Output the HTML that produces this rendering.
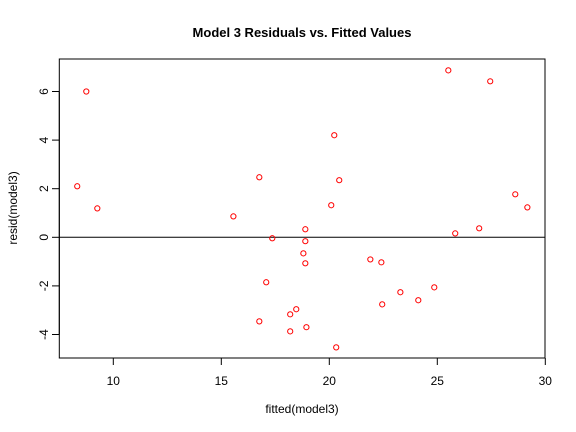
<!DOCTYPE html>
<html><head><meta charset="utf-8"><style>
body{margin:0;background:#fff;}
svg{display:block;font-family:"Liberation Sans",Arial,sans-serif;}
</style></head><body>
<svg id="chart" width="576" height="432">
<text x="302" y="37" text-anchor="middle" font-size="13" font-weight="bold">Model 3 Residuals vs. Fitted Values</text>
<text x="302" y="413" text-anchor="middle" font-size="12">fitted(model3)</text>
<text transform="translate(17,208) rotate(-90)" text-anchor="middle" font-size="12">resid(model3)</text>
<rect x="59.3" y="59" width="485.7" height="299" fill="none" stroke="#000" stroke-width="1"/>
<g id="xt"></g><g id="yt"></g><g id="pts"></g>
</svg>
<script>
const fitted=[8.75,8.33,9.26,15.56,16.76,17.36,17.08,16.76,18.19,18.47,18.19,18.89,18.89,18.80,18.89,18.94,20.09,20.23,20.46,20.32,21.90,22.41,22.45,23.29,24.12,24.86,25.51,25.83,26.94,27.45,28.61,29.17];
const resid=[6.0,2.10,1.19,0.86,2.47,-0.04,-1.85,-3.46,-3.17,-2.96,-3.87,0.33,-0.16,-0.66,-1.07,-3.70,1.32,4.20,2.35,-4.53,-0.91,-1.03,-2.76,-2.26,-2.59,-2.06,6.87,0.16,0.37,6.42,1.77,1.23];
const xTicks=[10,15,20,25,30];
const yTicks=[-4,-2,0,2,4,6];
const X=v=>113.3+(v-10)*21.6;
const Y=v=>237.3-v*24.3;
const NS="http://www.w3.org/2000/svg";
function mk(t,a,p){const e=document.createElementNS(NS,t);for(const k in a)e.setAttribute(k,a[k]);p.appendChild(e);return e;}
const xt=document.getElementById('xt'),yt=document.getElementById('yt'),pts=document.getElementById('pts');
mk('line',{x1:X(10),x2:X(30),y1:358,y2:358,stroke:'#000'},xt);
xTicks.forEach(v=>{
 const l=mk('line',{x1:X(v),x2:X(v),y1:358,y2:365,stroke:'#000'},xt);
 
 
 const t=mk('text',{x:X(v),y:385,'text-anchor':'middle','font-size':12},xt);t.textContent=v;
 
 
});
mk('line',{x1:59.3,x2:59.3,y1:Y(-4),y2:Y(6),stroke:'#000'},yt);
yTicks.forEach(v=>{
 const l=mk('line',{x1:52,x2:59.3,y1:Y(v),y2:Y(v),stroke:'#000'},yt);
 
 
 const t=mk('text',{transform:`translate(48,${Y(v)}) rotate(-90)`,'text-anchor':'middle','font-size':12},yt);t.textContent=v;
 
 
});
const z=mk('line',{x1:59.3,x2:545,y1:Y(0),y2:Y(0),stroke:'#000'},pts);


fitted.forEach((f,i)=>{
 const c=mk('circle',{cx:X(f),cy:Y(resid[i]),r:2.6,fill:'none',stroke:'#f00','stroke-width':1},pts);
 
 
});
</script>
</body></html>
